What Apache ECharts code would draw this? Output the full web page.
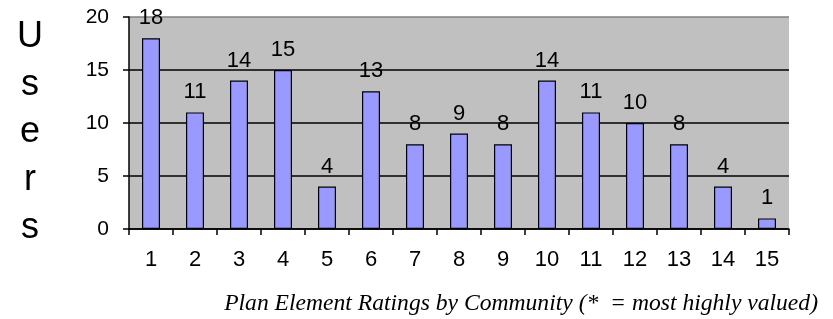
<!DOCTYPE html>
<html>
<head>
<meta charset="utf-8">
<script src="https://cdn.jsdelivr.net/npm/echarts@6/dist/echarts.min.js"></script>
<style>
  html, body { margin: 0; padding: 0; background: #fff; }
  #chart { width: 833px; height: 319px; }
</style>
</head>
<body>
<div id="chart"></div>
<script>
const ratings = ['1', '2', '3', '4', '5', '6', '7', '8', '9', '10', '11', '12', '13', '14', '15'];
const users = [18, 11, 14, 15, 4, 13, 8, 9, 8, 14, 11, 10, 8, 4, 1];
const yLetters = ['U', 's', 'e', 'r', 's'];

const chart = echarts.init(document.getElementById('chart'));

const font = 'Liberation Sans, Arial';

const option = {
  animation: false,
  grid: { left: 129, right: 44, top: 17, bottom: 90, show: true, backgroundColor: '#c0c0c0', borderWidth: 0 },
  xAxis: {
    type: 'category',
    data: ratings,
    axisLine: { lineStyle: { color: '#000', width: 1.5 } },
    axisTick: { show: true, length: 6, inside: false, lineStyle: { color: '#000', width: 1.5 } },
    axisLabel: { color: '#000', fontSize: 22, fontFamily: font, margin: 20 }
  },
  yAxis: {
    type: 'value',
    min: 0, max: 20, interval: 5,
    axisLine: { show: true, lineStyle: { color: '#000', width: 1.5 } },
    axisTick: { show: true, length: 6, lineStyle: { color: '#000', width: 1.5 } },
    axisLabel: { color: '#000', fontSize: 21, fontFamily: font, margin: 20 },
    splitLine: { show: true, lineStyle: { color: ['#000', '#000', '#000', '#000', '#808080'], width: 1.5 } }
  },
  series: [{
    type: 'bar',
    data: users,
    barWidth: 18,
    itemStyle: { color: '#9999ff', borderColor: '#000', borderWidth: 1.2 },
    label: { show: true, position: 'top', distance: 9, color: '#000', fontSize: 22, fontFamily: font }
  }]
};

option.graphic = yLetters.map((ch, i) => ({
  type: 'text',
  x: 30, y: 37 + i * 47.7,
  style: {
    text: ch, fill: '#000', fontSize: 36, fontFamily: font,
    align: 'center', verticalAlign: 'middle'
  }
}));
option.graphic.push({
  type: 'text',
  x: 818, y: 304,
  style: {
    text: 'Plan Element Ratings by Community (*  = most highly valued)',
    fill: '#000', fontSize: 23.6, fontStyle: 'italic', fontFamily: 'Liberation Serif, Times New Roman',
    align: 'right', verticalAlign: 'middle'
  }
});

chart.setOption(option);
</script>
</body>
</html>
